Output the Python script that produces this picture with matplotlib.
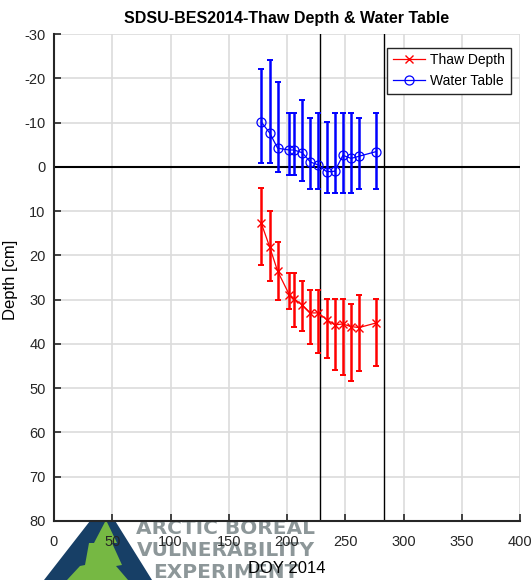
import numpy as np
import matplotlib
matplotlib.use("Agg")
import matplotlib.pyplot as plt
from matplotlib.patches import Polygon

plt.rcParams['font.family'] = ['Liberation Sans', 'DejaVu Sans']
plt.rcParams['axes.unicode_minus'] = False

# ---------- data ----------
doy = [178, 185, 192, 202, 206, 213, 220, 227, 234, 241, 248, 255, 262, 276]

thaw = [12.8, 18.0, 23.6, 28.9, 29.8, 31.2, 33.0, 33.0, 34.5, 35.7, 35.5, 36.1, 36.3, 35.3]
thaw_lo = [4.8, 10.0, 17.0, 24.0, 24.0, 25.9, 27.8, 27.8, 29.8, 29.8, 29.8, 30.9, 28.9, 29.8]
thaw_hi = [22.1, 25.9, 30.0, 32.1, 36.1, 37.0, 40.0, 42.1, 43.2, 46.0, 47.0, 48.3, 46.2, 45.1]

water = [-10.1, -7.7, -4.2, -3.8, -3.8, -3.2, -1.1, -0.4, 1.1, 1.0, -2.6, -1.9, -2.4, -3.4]
water_lo = [-22.2, -24.1, -19.2, -12.2, -12.2, -15.2, -11.1, -12.2, -10.2, -12.2, -12.2, -12.2, -11.1, -12.2]
water_hi = [-0.9, -0.9, 1.1, 1.9, 1.9, 3.1, 4.9, 4.9, 6.0, 6.0, 6.0, 6.0, 4.9, 4.9]

season_marks = [228, 283]

x_ticks = np.arange(0, 401, 50)
y_ticks = np.arange(-30, 81, 10)

# ---------- figure ----------
W, H = 531, 580
fig = plt.figure(figsize=(W / 100, H / 100), dpi=100)
ax = fig.add_axes([54 / W, 1 - 521 / H, 466 / W, 487 / H])


def px(x, y):
    return (x / W, 1 - y / H)


# logo behind the axes
tri = Polygon([px(44, 580), px(104, 503), px(152, 580)], closed=True,
              transform=fig.transFigure, facecolor='#173f66', edgecolor='none', zorder=-2)
fig.patches.append(tri)
tree_pts = [(106, 520), (117, 543), (112, 543), (122, 565), (116, 566), (128, 580),
            (67, 580), (80, 566), (85, 565), (89, 543), (94, 543)]
tree = Polygon([px(*p) for p in tree_pts], closed=True, transform=fig.transFigure,
               facecolor='#76b843', edgecolor='none', zorder=-1)
fig.patches.append(tree)
for txt, (xx, yy) in [("ARCTIC BOREAL", (225, 529)), ("VULNERABILITY", (226, 550)),
                      ("EXPERIMENT", (226, 573))]:
    fig.text(*px(xx, yy), txt, ha='center', va='center', fontsize=14.5,
             fontweight='bold', color='#8d9799', family='DejaVu Sans', zorder=-1)

# ---------- plot ----------
yerr_t = [np.array(thaw) - np.array(thaw_lo), np.array(thaw_hi) - np.array(thaw)]
yerr_w = [np.array(water) - np.array(water_lo), np.array(water_hi) - np.array(water)]

ax.errorbar(doy, thaw, yerr=yerr_t, fmt='none', ecolor='#ff0000', elinewidth=1.8,
            capsize=2, capthick=1.4, zorder=3)
ax.plot(doy, thaw, '-x', color='#ff0000', lw=0.9, ms=6, mew=1.0, zorder=4,
        label='Thaw Depth')
ax.errorbar(doy, water, yerr=yerr_w, fmt='none', ecolor='#0000ff', elinewidth=1.8,
            capsize=2, capthick=1.4, zorder=3)
ax.plot(doy, water, '-o', color='#0000ff', mfc='none', lw=0.9, ms=6.5, mew=0.9,
        zorder=4, label='Water Table')

ax.axhline(0, color='black', lw=1.5, zorder=2)
for d in season_marks:
    ax.axvline(d, color='black', lw=1.0, zorder=2)

ax.set_xlim(0, 400)
ax.set_ylim(80, -30)
ax.set_xticks(x_ticks)
ax.set_yticks(y_ticks)
ax.grid(True, color='#dcdcdc', lw=1.2)
ax.set_axisbelow(True)
for s in ['top', 'right']:
    ax.spines[s].set_visible(False)
for s in ['left', 'bottom']:
    ax.spines[s].set_color('#262626')
    ax.spines[s].set_linewidth(1.5)
ax.tick_params(direction='in', length=5, width=1.2, color='#262626',
               labelsize=10.5, labelcolor='#262626')
ax.tick_params(axis='x', pad=10)
ax.tick_params(axis='y', pad=6)

ax.set_title('SDSU-BES2014-Thaw Depth & Water Table', fontsize=11.5,
             fontweight='bold', pad=8)
ax.set_xlabel('DOY 2014', fontsize=12)
ax.xaxis.set_label_coords(0.5, -0.083)
ax.set_ylabel('Depth [cm]', fontsize=12)
ax.yaxis.set_label_coords(-0.077, 0.495)

leg = ax.legend(loc='upper right', bbox_to_anchor=(0.98, 0.972), borderaxespad=0,
                fontsize=10, fancybox=False, framealpha=1, edgecolor='#262626',
                handlelength=2.3, handletextpad=0.4, borderpad=0.4, labelspacing=0.5)
leg.get_frame().set_linewidth(1.0)

fig.savefig('out.png', dpi=100)
